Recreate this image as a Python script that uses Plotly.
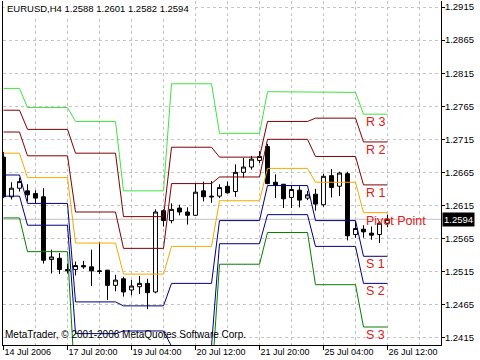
import plotly.graph_objects as go

# ---------------- data ----------------
tick_index = [0, 8, 16, 24, 32, 40, 48]
tick_text = ["14 Jul 2006", "17 Jul 20:00", "19 Jul 04:00", "20 Jul 12:00",
             "21 Jul 20:00", "25 Jul 04:00", "26 Jul 12:00"]
minor_index = [4, 12, 20, 28, 36, 44, 52]

opens = [1.2688, 1.2628, 1.2641, 1.2637, 1.2633, 1.2628, 1.2533, 1.2535, 1.2518,
         1.2518, 1.2524, 1.2522, 1.2516, 1.2517, 1.2494,
         1.2504, 1.2487, 1.2492, 1.2497, 1.2484, 1.2607,
         1.2592, 1.2611, 1.2605, 1.2600, 1.2637, 1.2629,
         1.2629, 1.2644, 1.2636, 1.2665, 1.2673, 1.2683,
         1.2704, 1.2650, 1.2647, 1.2627, 1.2638, 1.2626,
         1.2632, 1.2616, 1.2660, 1.2644, 1.2663, 1.2571,
         1.2579, 1.2573, 1.2571, 1.2588]
highs = [1.2696, 1.2650, 1.2657, 1.2647, 1.2638, 1.2641, 1.2548, 1.2543, 1.2527,
         1.2530, 1.2531, 1.2548, 1.2559, 1.2517, 1.2510,
         1.2507, 1.2502, 1.2508, 1.2504, 1.2609, 1.2609,
         1.2618, 1.2616, 1.2612, 1.2648, 1.2651, 1.2652,
         1.2647, 1.2651, 1.2677, 1.2687, 1.2690, 1.2697,
         1.2708, 1.2662, 1.2647, 1.2646, 1.2644, 1.2637,
         1.2640, 1.2663, 1.2670, 1.2666, 1.2666, 1.2591,
         1.2585, 1.2583, 1.2591, 1.2601]
lows = [1.2626, 1.2624, 1.2636, 1.2621, 1.2618, 1.2527, 1.2512, 1.2511, 1.2512,
        1.2509, 1.2519, 1.2493, 1.2511, 1.2472, 1.2485,
        1.2477, 1.2479, 1.2481, 1.2458, 1.2482, 1.2583,
        1.2588, 1.2600, 1.2586, 1.2599, 1.2621, 1.2619,
        1.2626, 1.2633, 1.2628, 1.2657, 1.2669, 1.2679,
        1.2647, 1.2626, 1.2611, 1.2611, 1.2612, 1.2623,
        1.2607, 1.2613, 1.2627, 1.2629, 1.2562, 1.2566,
        1.2566, 1.2563, 1.2558, 1.2582]
closes = [1.2628, 1.2641, 1.2651, 1.2631, 1.2626, 1.2532, 1.2537, 1.2518, 1.2516,
          1.2524, 1.2522, 1.2516, 1.2515, 1.2494, 1.2502,
          1.2484, 1.2493, 1.2497, 1.2483, 1.2605, 1.2592,
          1.2609, 1.2605, 1.2600, 1.2635, 1.2628, 1.2628,
          1.2642, 1.2634, 1.2665, 1.2673, 1.2685, 1.2689,
          1.2648, 1.2646, 1.2625, 1.2639, 1.2623, 1.2631,
          1.2617, 1.2659, 1.2642, 1.2664, 1.2569, 1.2580,
          1.2575, 1.2570, 1.2588, 1.2594]

# number of H4 bars shown for each trading day (14 Jul .. 26 Jul 2006)
bars_per_day = [3, 6, 6, 6, 6, 6, 6, 6, 4]

# daily pivot levels
R3 = [1.2792, 1.2763, 1.2742, 1.2637, 1.2799, 1.2724, 1.2787, 1.2786, 1.2753]
R2 = [1.2759, 1.2730, 1.2694, 1.2598, 1.2703, 1.2688, 1.2742, 1.2747, 1.2711]
R1 = [1.2726, 1.2690, 1.2605, 1.2550, 1.2648, 1.2658, 1.2715, 1.2689, 1.2646]
PP = [1.2694, 1.2657, 1.2558, 1.2511, 1.2553, 1.2622, 1.2671, 1.2650, 1.2604]
S1 = [1.2661, 1.2618, 1.2469, 1.2463, 1.2497, 1.2592, 1.2645, 1.2592, 1.2538]
S2 = [1.2629, 1.2585, 1.2421, 1.2425, 1.2402, 1.2557, 1.2601, 1.2553, 1.2497]
S3 = [1.2596, 1.2545, 1.2333, 1.2377, 1.2346, 1.2526, 1.2574, 1.2495, 1.2431]

level_names = ["R 3", "R 2", "R 1", "Pivot Point", "S 1", "S 2", "S 3"]
level_values = [R3, R2, R1, PP, S1, S2, S3]
level_colors = ["#3ee43e", "#800000", "#800000", "#f5a800", "#000080", "#000080", "#008000"]

y_ticks = [1.2415, 1.2465, 1.2515, 1.2565, 1.2615, 1.2665, 1.2715, 1.2765, 1.2815, 1.2865, 1.2915]
y_tick_text = ["%.4f" % v for v in y_ticks]

symbol_text = "EURUSD,H4 1.2588 1.2601 1.2582 1.2594"
copyright_text = "MetaTrader, \u00a9 2001-2006 MetaQuotes Software Corp."
last_price = 1.2594

# ---------------- figure ----------------
bars = list(range(len(opens)))
day_of_bar = []
for d, n in enumerate(bars_per_day):
    day_of_bar += [d] * n
last_day_start = len(bars) - bars_per_day[-1]

FONT = "Liberation Sans"
GRID = "#c4c4c4"

fig = go.Figure()

for name, vals, col in zip(level_names, level_values, level_colors):
    fig.add_trace(go.Scatter(
        x=bars, y=[vals[d] for d in day_of_bar], mode="lines",
        line=dict(color=col, width=1), hoverinfo="skip", showlegend=False))

fig.add_trace(go.Candlestick(
    x=bars, open=opens, high=highs, low=lows, close=closes,
    increasing=dict(line=dict(color="black", width=1), fillcolor="white"),
    decreasing=dict(line=dict(color="black", width=1), fillcolor="black"),
    whiskerwidth=0, showlegend=False))

for name, vals in zip(level_names, level_values):
    fig.add_annotation(x=last_day_start, y=vals[-1],
                       xref="x", yref="y", xanchor="left", yanchor="middle",
                       yshift=-8, xshift=0, text=name, showarrow=False,
                       font=dict(family=FONT, size=12.5, color="#e02020"))

fig.add_shape(type="line", xref="paper", x0=0, x1=1, yref="y", y0=last_price, y1=last_price,
              line=dict(color="#c0c0c0", width=1), layer="below")

fig.add_annotation(xref="paper", x=1, yref="y", y=last_price, xanchor="left", yanchor="middle",
                   xshift=1, text="%.4f" % last_price, showarrow=False, bgcolor="black",
                   borderpad=1, font=dict(family=FONT, size=9.5, color="white"))

fig.add_annotation(xref="paper", x=0, yref="paper", y=1, xanchor="left", yanchor="top",
                   xshift=1, yshift=1, text=symbol_text, showarrow=False, bgcolor="white",
                   borderpad=2, font=dict(family=FONT, size=9.5, color="black"))

fig.add_annotation(xref="paper", x=0, yref="y", y=1.2420, xanchor="left", yanchor="middle",
                   xshift=0, text=copyright_text, showarrow=False,
                   font=dict(family=FONT, size=10, color="black"))

fig.update_layout(
    width=480, height=360,
    margin=dict(l=3, r=39, t=1, b=15),
    paper_bgcolor="white", plot_bgcolor="white",
    showlegend=False,
    xaxis=dict(
        range=[-0.0625, 54.6875], tickmode="array", tickvals=tick_index, ticktext=tick_text,
        ticks="outside", ticklen=4, tickcolor="black", ticklabelposition="outside right",
        ticklabelstandoff=-2,
        showline=True, linecolor="black", linewidth=1,
        showgrid=True, gridcolor=GRID, griddash="3px,3px", gridwidth=1,
        zeroline=False, rangeslider=dict(visible=False),
        tickfont=dict(family=FONT, size=9, color="black"),
        minor=dict(tickmode="array", tickvals=minor_index, showgrid=True,
                   gridcolor=GRID, griddash="3px,3px", ticks=""),
        fixedrange=True,
    ),
    yaxis=dict(
        side="right", range=[1.240379, 1.292423], tickmode="array",
        tickvals=y_ticks, ticktext=y_tick_text,
        ticks="outside", ticklen=3, tickcolor="black",
        ticklabelstandoff=-2,
        showline=True, mirror=True, linecolor="black", linewidth=1,
        showgrid=True, gridcolor=GRID, griddash="3px,3px", gridwidth=1,
        zeroline=False, tickfont=dict(family=FONT, size=9.5, color="black"),
        fixedrange=True,
    ),
)

fig.write_html("out.html")
